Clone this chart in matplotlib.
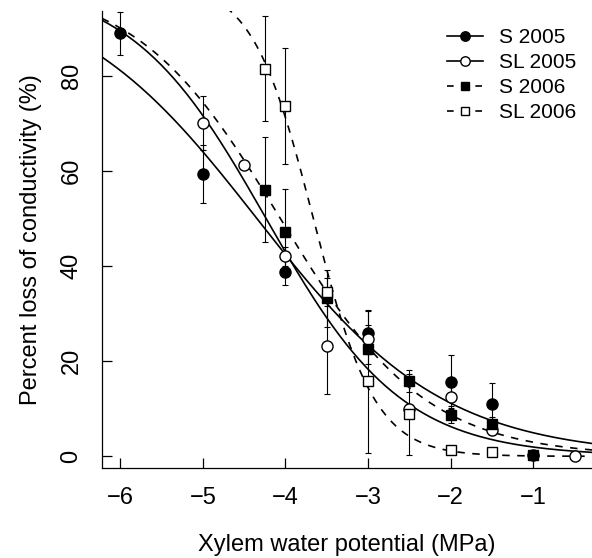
import numpy as np
import matplotlib
matplotlib.use('Agg')
import matplotlib.pyplot as plt

plt.rcParams['font.family'] = ['Liberation Sans', 'DejaVu Sans']

# measured points (mean, error bar half-width)
s05_x = [-6, -5, -4, -3, -2, -1.5, -1]
s05_y = [89.0, 59.5, 38.7, 26.0, 15.6, 11.1, 0.3]
s05_e = [4.5, 6.1, 2.7, 4.5, 5.7, 4.3, 0.5]

sl05_x = [-5, -4.5, -4, -3.5, -3, -2.5, -2, -1.5, -0.5]
sl05_y = [70.1, 61.4, 42.1, 23.2, 24.6, 10.0, 12.5, 5.5, 0.1]
sl05_e = [5.7, 0.0, 2.0, 10.0, 3.0, 1.0, 2.0, 1.0, 0.0]

s06_x = [-4.25, -4, -3.5, -3, -2.5, -2, -1.5, -1]
s06_y = [56.1, 47.2, 33.3, 22.5, 15.8, 8.6, 6.7, 0.2]
s06_e = [11.0, 9.0, 6.0, 3.0, 2.3, 1.5, 1.5, 0.5]

sl06_x = [-4.25, -4, -3.5, -3, -2.5, -2, -1.5]
sl06_y = [81.6, 73.7, 34.6, 15.8, 8.8, 1.3, 0.9]
sl06_e = [11.0, 12.2, 3.0, 15.0, 8.5, 0.8, 0.5]

# fitted sigmoid curves: PLC = 100 / (1 + exp(a * (psi - P50)))
fit_a = [0.884, 1.2125, 1.14, 2.689]
fit_p50 = [-4.344, -4.233, -4.06, -3.662]

labels = ['S 2005', 'SL 2005', 'S 2006', 'SL 2006']
xticks = [-6, -5, -4, -3, -2, -1]
yticks = [0, 20, 40, 60, 80]

W, H = 592, 558
fig = plt.figure(figsize=(W / 100, H / 100), dpi=100)
ax = fig.add_axes([102 / W, 1 - 468 / H, 1 - 102 / W, (468 - 11) / H])
ax.set_xlim(-6.22, -0.29)
ax.set_ylim(-2.46, 93.7)

series = [
    (s05_x, s05_y, s05_e, 'o', 'black', '-'),
    (sl05_x, sl05_y, sl05_e, 'o', 'white', '-'),
    (s06_x, s06_y, s06_e, 's', 'black', '--'),
    (sl06_x, sl06_y, sl06_e, 's', 'white', '--'),
]

xs = np.linspace(-6.22, -0.29, 300)
handles = []
for i, (x, y, e, mk, fc, ls) in enumerate(series):
    curve = 100 / (1 + np.exp(fit_a[i] * (xs - fit_p50[i])))
    kw = dict(dashes=(4.5, 4.5)) if ls == '--' else {}
    ax.plot(xs, curve, color='black', lw=1.2, **kw, zorder=2)
    ax.errorbar(x, y, yerr=e, fmt='none', ecolor='black', elinewidth=0.8,
                capsize=2.3, capthick=0.8, zorder=3)
    ms = 8 if mk == 'o' else 7.3
    ax.plot(x, y, linestyle='none', marker=mk, ms=ms, mfc=fc, mec='black',
            mew=1.0, zorder=4)
    hkw = dict(dashes=(4.0, 13)) if ls == '--' else {}
    h, = plt.plot([], [], color='black', lw=1.2, marker=mk, ms=ms * 0.85,
                  mfc=fc, mec='black', mew=1.0, **hkw)
    handles.append(h)

ax.legend(handles, labels, loc='upper left', frameon=False, fontsize=15,
          bbox_to_anchor=(447 / W, 1 - 28 / H), bbox_transform=fig.transFigure,
          borderpad=0, borderaxespad=0, labelspacing=0.29, handlelength=1.73,
          handletextpad=0.75)

ax.spines['top'].set_visible(False)
ax.spines['right'].set_visible(False)
for s in ['left', 'bottom']:
    ax.spines[s].set_linewidth(0.9)

ax.set_xticks(xticks)
ax.set_yticks(yticks)
ax.tick_params(direction='in', length=7.5, width=0.9, labelsize=17, pad=14)
for lab in ax.get_yticklabels():
    lab.set_rotation(90)
    lab.set_va('center')

ax.set_xlabel('Xylem water potential (MPa)', fontsize=17, labelpad=18)
ax.set_ylabel('Percent loss of conductivity (%)', fontsize=17, labelpad=13)

fig.savefig('out.png', dpi=100)
